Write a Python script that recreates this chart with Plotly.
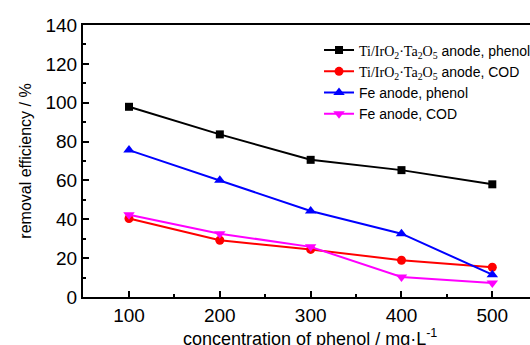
import plotly.graph_objects as go

conc = [100, 200, 300, 400, 500]
ti_phenol = [97.9, 83.7, 70.6, 65.3, 58.0]
ti_cod = [40.4, 29.2, 24.5, 18.9, 15.3]
fe_phenol = [75.6, 60.1, 44.3, 32.6, 11.5]
fe_cod = [42.3, 32.6, 25.8, 10.3, 7.2]

serif = '<span style="font-family:Liberation Serif, Times New Roman, serif">'
names = [
    serif + "Ti/IrO<sub>2</sub>·Ta<sub>2</sub>O<sub>5</sub></span> anode, phenol",
    serif + "Ti/IrO<sub>2</sub>·Ta<sub>2</sub>O<sub>5</sub></span> anode, COD",
    "Fe anode, phenol",
    "Fe anode, COD",
]
series = [ti_phenol, ti_cod, fe_phenol, fe_cod]
colors = ["#000000", "#ff0000", "#0000ff", "#ff00ff"]
symbols = ["square", "circle", "triangle-up", "triangle-down"]
sizes = [8, 9, 10, 10]

fig = go.Figure()
for n, s, c, m, sz in zip(names, series, colors, symbols, sizes):
    fig.add_trace(go.Scatter(
        x=conc, y=s, name=n, mode="lines+markers",
        line=dict(color=c, width=2),
        marker=dict(symbol=m, size=sz, color=c),
    ))

font = "Liberation Sans, Arial, sans-serif"
fig.update_layout(
    width=530, height=345,
    margin=dict(l=83, r=0, t=25, b=48, autoexpand=False),
    paper_bgcolor="white", plot_bgcolor="white",
    font=dict(family=font, color="black"),
    showlegend=True,
    legend=dict(
        x=0.528, y=0.965, xanchor="left", yanchor="top",
        font=dict(size=14, family=font), bgcolor="rgba(0,0,0,0)",
        tracegroupgap=0, itemwidth=30,
    ),
    xaxis=dict(
        range=[49.35, 541.5], tickvals=conc, ticktext=[str(v) for v in conc],
        ticks="inside", ticklen=6, tickwidth=1.5, tickcolor="black",
        showline=True, linecolor="black", linewidth=2, mirror=True,
        showgrid=False, zeroline=False,
        tickfont=dict(size=19, family=font),
        minor=dict(ticks="inside", ticklen=3, tickwidth=1.5, tickcolor="black",
                   tick0=50, dtick=50, showgrid=False),
    ),
    yaxis=dict(
        range=[0, 140], tick0=0, dtick=20,
        ticks="inside", ticklen=6, tickwidth=1.5, tickcolor="black",
        showline=True, linecolor="black", linewidth=2,
        showgrid=False, zeroline=False,
        tickfont=dict(size=19, family=font),
        ticklabelstandoff=0,
        minor=dict(ticks="inside", ticklen=3, tickwidth=1.5, tickcolor="black",
                   dtick=10, showgrid=False),
        title=dict(text="removal efficiency / %", font=dict(size=16, family=font),
                   standoff=10),
    ),
    annotations=[dict(
        text="concentration of phenol / mg·L<sup>-1</sup>",
        xref="paper", yref="paper", x=0.508, y=-0.099,
        xanchor="center", yanchor="top", showarrow=False,
        font=dict(size=18, family=font),
    )],
)

fig.write_html("out.html")
